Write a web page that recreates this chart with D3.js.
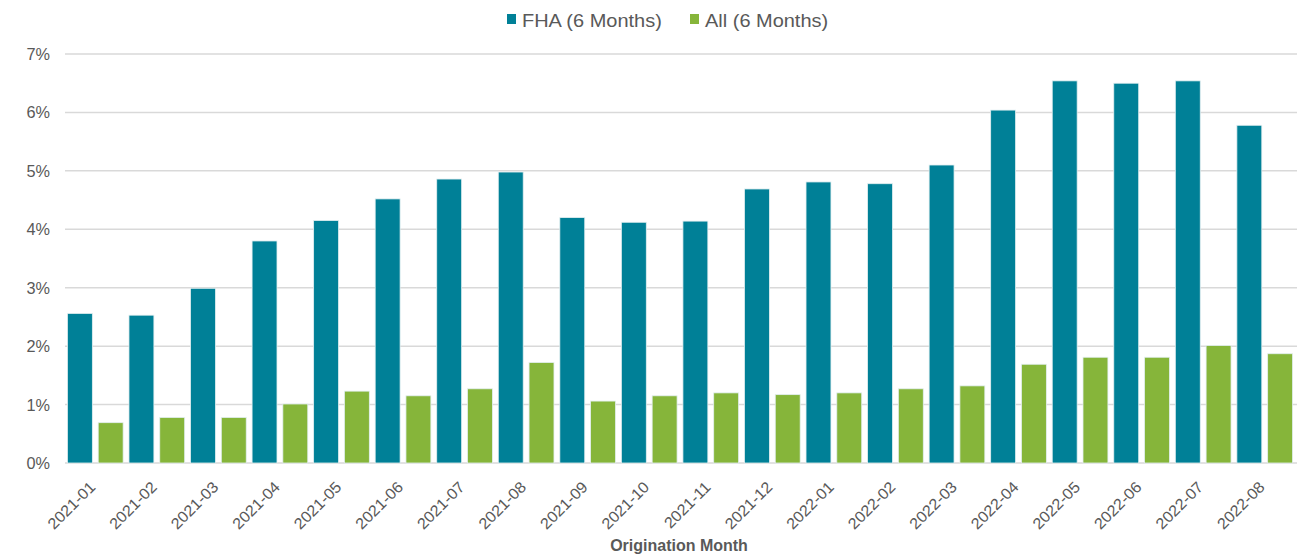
<!DOCTYPE html>
<html>
<head>
  <meta charset="utf-8">
  <script src="https://d3js.org/d3.v7.min.js"></script>
  <style type="text/css">
    body { margin: 0; background: #fff; }
    .tick-label, .legend-text, .axis-title {
      font-family: "Liberation Sans", Arial, sans-serif;
      fill: #595959;
    }
  </style>
</head>
<body>
<script type="text/javascript">
  // Data
  var months = ["2021-01","2021-02","2021-03","2021-04","2021-05","2021-06","2021-07","2021-08","2021-09","2021-10",
                "2021-11","2021-12","2022-01","2022-02","2022-03","2022-04","2022-05","2022-06","2022-07","2022-08"];
  var fha = [2.56,2.53,2.99,3.80,4.15,4.52,4.86,4.98,4.20,4.12,4.14,4.69,4.81,4.78,5.10,6.04,6.54,6.50,6.54,5.78];
  var all = [0.69,0.78,0.78,1.01,1.23,1.15,1.27,1.72,1.06,1.15,1.20,1.17,1.20,1.27,1.32,1.69,1.81,1.81,2.01,1.87];
  var seriesNames = ["FHA (6 Months)", "All (6 Months)"];
  var yTicks = [0,1,2,3,4,5,6,7];

  var colors = ["#008097", "#86b53a"];

  var width = 1310, height = 557;
  var plotLeft = 64.5, plotRight = 1295.5, plotTop = 54, plotBottom = 463;

  var svg = d3.select("body").append("svg")
      .attr("width", width)
      .attr("height", height);

  var x = d3.scaleBand().domain(months).range([plotLeft, plotRight]).paddingInner(0).paddingOuter(0);
  var inner = d3.scaleBand().domain([0, 1]).range([0, x.bandwidth()]).paddingInner(0.19).paddingOuter(0.095);
  var y = d3.scaleLinear().domain([0, 7]).range([plotBottom, plotTop]);

  // gridlines
  svg.append("g").selectAll("line")
    .data(yTicks)
    .enter().append("line")
      .attr("x1", 65).attr("x2", 1297)
      .attr("y1", function(d){ return y(d); })
      .attr("y2", function(d){ return y(d); })
      .attr("stroke", "#d9d9d9")
      .attr("stroke-width", 1.5);

  // y labels
  svg.append("g").selectAll("text")
    .data(yTicks)
    .enter().append("text")
      .attr("class", "tick-label")
      .attr("x", 50)
      .attr("y", function(d){ return y(d) + 6; })
      .attr("text-anchor", "end")
      .style("font-size", "16.3px")
      .text(function(d){ return d + "%"; });

  // bars
  var rows = months.map(function(m, i){ return {m: m, v: [fha[i], all[i]]}; });
  var groups = svg.append("g").selectAll("g")
    .data(rows)
    .enter().append("g")
      .attr("transform", function(d){ return "translate(" + x(d.m) + ",0)"; });

  groups.selectAll("rect")
    .data(function(d){ return d.v.map(function(v, k){ return {k: k, v: v}; }); })
    .enter().append("rect")
      .attr("x", function(d){ return inner(d.k); })
      .attr("width", inner.bandwidth())
      .attr("y", function(d){ return y(d.v); })
      .attr("height", function(d){ return y(0) - y(d.v); })
      .attr("fill", function(d){ return colors[d.k]; })
      .attr("stroke", "#e3eff1")
      .attr("stroke-width", 0.8);

  // x labels
  svg.append("g").selectAll("text")
    .data(months)
    .enter().append("text")
      .attr("class", "tick-label")
      .attr("text-anchor", "end")
      .style("font-size", "15.5px")
      .attr("transform", function(d){
        return "translate(" + (x(d) + x.bandwidth() / 2 + 1) + "," + (plotBottom + 25) + ") rotate(-45) scale(1.05,1)";
      })
      .text(function(d){ return d; });

  // axis title
  svg.append("text")
    .attr("class", "axis-title")
    .attr("x", 679)
    .attr("y", 551)
    .attr("text-anchor", "middle")
    .style("font-size", "16px")
    .style("font-weight", "bold")
    .text("Origination Month");

  // legend
  var legendX = [507, 690];
  var legend = svg.append("g").selectAll("g")
    .data(seriesNames)
    .enter().append("g")
      .attr("transform", function(d, i){ return "translate(" + legendX[i] + ",14)"; });
  legend.append("rect")
    .attr("width", 9).attr("height", 10)
    .attr("fill", function(d, i){ return colors[i]; });
  legend.append("text")
    .attr("class", "legend-text")
    .attr("transform", "translate(15,12.5) scale(1.135,1)")
    .style("font-size", "17.6px")
    .text(function(d){ return d; });
</script>
</body>
</html>
